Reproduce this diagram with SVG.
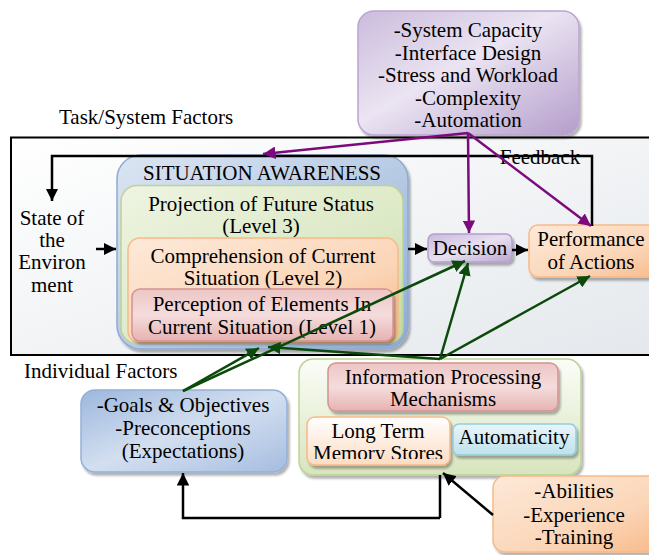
<svg xmlns="http://www.w3.org/2000/svg" width="649" height="555" viewBox="0 0 649 555">
<defs>
<style>
text{font-family:"Liberation Serif","Times New Roman",serif;font-size:21px;fill:#000;text-anchor:middle}
.lbl{text-anchor:start}
.blk{fill:none;stroke:#000;stroke-width:2.5}
.pur{fill:none;stroke:#7d0a7d;stroke-width:2.5}
.grn{fill:none;stroke:#0b4a0b;stroke-width:2.5}
.sh{filter:url(#ds)}
</style>
<filter id="ds" x="-10%" y="-10%" width="130%" height="130%">
<feDropShadow dx="2" dy="3" stdDeviation="1" flood-color="#000" flood-opacity="0.3"/>
</filter>
<linearGradient id="gEnv" x1="0" y1="0" x2="1" y2="1"><stop offset="0" stop-color="#ffffff"/><stop offset="1" stop-color="#e4e8ec"/></linearGradient>
<linearGradient id="gPur" x1="0" y1="0" x2="1" y2="1"><stop offset="0" stop-color="#cbbcdc"/><stop offset="0.45" stop-color="#ebe4f2"/><stop offset="1" stop-color="#b49dcb"/></linearGradient>
<linearGradient id="gDec" x1="0" y1="0" x2="1" y2="1"><stop offset="0" stop-color="#c9b9dc"/><stop offset="0.5" stop-color="#e8e0f0"/><stop offset="1" stop-color="#bba6d1"/></linearGradient>
<linearGradient id="gBlue" x1="0" y1="0" x2="1" y2="1"><stop offset="0" stop-color="#dbe5f2"/><stop offset="0.5" stop-color="#b9cce5"/><stop offset="1" stop-color="#8eaad4"/></linearGradient>
<linearGradient id="gBlue2" x1="0" y1="0" x2="1" y2="1"><stop offset="0" stop-color="#9db7dc"/><stop offset="0.5" stop-color="#d3dff0"/><stop offset="1" stop-color="#a6bde0"/></linearGradient>
<linearGradient id="gGrn" x1="0" y1="0" x2="1" y2="1"><stop offset="0" stop-color="#eef4e2"/><stop offset="0.6" stop-color="#dce9c5"/><stop offset="1" stop-color="#c3d79e"/></linearGradient>
<linearGradient id="gGrn2" x1="0" y1="0" x2="0" y2="1"><stop offset="0" stop-color="#fbfdf8"/><stop offset="1" stop-color="#d7e5bd"/></linearGradient>
<linearGradient id="gOr" x1="0" y1="0" x2="1" y2="1"><stop offset="0" stop-color="#fde9d9"/><stop offset="0.6" stop-color="#fbd6b8"/><stop offset="1" stop-color="#f8b886"/></linearGradient>
<linearGradient id="gOr2" x1="0" y1="0" x2="0" y2="1"><stop offset="0" stop-color="#ffffff"/><stop offset="1" stop-color="#fcdcc2"/></linearGradient>
<linearGradient id="gRed" x1="0" y1="0" x2="0" y2="1"><stop offset="0" stop-color="#ecc6c5"/><stop offset="0.5" stop-color="#f5dcdc"/><stop offset="1" stop-color="#e5b3b2"/></linearGradient>
<linearGradient id="gCy" x1="0" y1="0" x2="0" y2="1"><stop offset="0" stop-color="#e9f5f9"/><stop offset="1" stop-color="#bfe1ec"/></linearGradient>
<marker id="aB" viewBox="0 0 10 10" refX="10" refY="5" markerWidth="5" markerHeight="5" orient="auto" markerUnits="strokeWidth"><path d="M0,0 L10,5 L0,10 Z" fill="#000"/></marker>
<marker id="aP" viewBox="0 0 10 10" refX="10" refY="5" markerWidth="5" markerHeight="5" orient="auto" markerUnits="strokeWidth"><path d="M0,0 L10,5 L0,10 Z" fill="#7d0a7d"/></marker>
<marker id="aG" viewBox="0 0 10 10" refX="10" refY="5" markerWidth="5" markerHeight="5" orient="auto" markerUnits="strokeWidth"><path d="M0,0 L10,5 L0,10 Z" fill="#0b4a0b"/></marker>
<clipPath id="cLTM"><rect x="300" y="410" width="160" height="49"/></clipPath>
</defs>

<g id="environment-frame">
<rect x="11" y="137.5" width="660" height="217.5" fill="url(#gEnv)" stroke="#000" stroke-width="2"/>
</g>

<g id="labels">
<text class="lbl" x="59" y="124">Task/System Factors</text>
<text class="lbl" x="24" y="378">Individual Factors</text>
</g>

<g id="task-system-factors">
<rect class="sh" x="358" y="11" width="221" height="124" rx="16" fill="url(#gPur)" stroke="#b9a5d0" stroke-width="1.5"/>
<text x="468" y="37">-System Capacity</text>
<text x="468" y="60">-Interface Design</text>
<text x="468" y="82">-Stress and Workload</text>
<text x="468" y="105">-Complexity</text>
<text x="468" y="127">-Automation</text>
</g>

<g id="state-of-environment">
<text x="52" y="225">State of</text>
<text x="52" y="247">the</text>
<text x="52" y="269">Environ</text>
<text x="52" y="292">ment</text>
</g>

<g id="situation-awareness">
<rect class="sh" x="117" y="155" width="291" height="194" rx="24" fill="url(#gBlue)" stroke="#8ea9d2" stroke-width="1.5"/>
<text x="262" y="180">SITUATION AWARENESS</text>
</g>

<g id="level3">
<rect x="121" y="185.5" width="282" height="158" rx="16" fill="url(#gGrn)" stroke="#bdd296" stroke-width="1.5"/>
<text x="261" y="211">Projection of Future Status</text>
<text x="261" y="233">(Level 3)</text>
</g>

<g id="level2">
<rect x="128" y="238" width="270" height="105" rx="12" fill="url(#gOr)" stroke="#f7b988" stroke-width="1.5"/>
<text x="263" y="263">Comprehension of Current</text>
<text x="263" y="285">Situation (Level 2)</text>
</g>

<g id="level1">
<rect class="sh" x="132" y="289" width="261" height="52" rx="8" fill="url(#gRed)" stroke="#d49391" stroke-width="1.5"/>
<text x="262" y="311">Perception of Elements In</text>
<text x="262" y="333.5">Current Situation (Level 1)</text>
</g>

<g id="decision">
<rect class="sh" x="428" y="234" width="84" height="28" rx="6" fill="url(#gDec)" stroke="#b3a0cc" stroke-width="1.5"/>
<text x="470" y="255">Decision</text>
</g>

<g id="performance">
<rect class="sh" x="529" y="225" width="140" height="52" rx="9" fill="url(#gOr)" stroke="#f7b988" stroke-width="1.5"/>
<text x="591" y="246">Performance</text>
<text x="591" y="268.5">of Actions</text>
</g>

<g id="goals">
<rect class="sh" x="81" y="390" width="206" height="82" rx="14" fill="url(#gBlue2)" stroke="#94b0d8" stroke-width="1.5"/>
<text x="183" y="412">-Goals &amp; Objectives</text>
<text x="183" y="435">-Preconceptions</text>
<text x="183" y="458">(Expectations)</text>
</g>

<g id="individual-mechanisms">
<rect class="sh" x="299" y="359" width="282" height="116" rx="14" fill="url(#gGrn2)" stroke="#bcd297" stroke-width="1.5"/>
</g>

<g id="information-processing">
<rect class="sh" x="328" y="363" width="230" height="48" rx="8" fill="url(#gRed)" stroke="#d49391" stroke-width="1.5"/>
<text x="443" y="384">Information Processing</text>
<text x="443" y="406">Mechanisms</text>
</g>

<g id="long-term-memory">
<rect class="sh" x="307" y="417" width="143" height="48" rx="8" fill="url(#gOr2)" stroke="#f7b988" stroke-width="1.5"/>
<text x="378" y="438">Long Term</text>
<text x="378" y="460" clip-path="url(#cLTM)">Memory Stores</text>
</g>

<g id="automaticity">
<rect class="sh" x="453" y="424" width="123" height="31" rx="6" fill="url(#gCy)" stroke="#93cddd" stroke-width="1.5"/>
<text x="514" y="444">Automaticity</text>
</g>

<g id="abilities">
<rect class="sh" x="493" y="476" width="176" height="76" rx="12" fill="url(#gOr)" stroke="#f7b988" stroke-width="1.5"/>
<text x="574" y="498">-Abilities</text>
<text x="574" y="522">-Experience</text>
<text x="574" y="544">-Training</text>
</g>

<g id="feedback-label">
<text x="540" y="164">Feedback</text>
</g>

<g id="connectors">
<path class="blk" d="M592,226 V156 H52 V201" marker-end="url(#aB)"/>
<path class="blk" d="M96,249 H116" marker-end="url(#aB)"/>
<path class="blk" d="M408,249 H427" marker-end="url(#aB)"/>
<path class="blk" d="M512,250 H528" marker-end="url(#aB)"/>
<path class="blk" d="M440,518 H183 V473" marker-end="url(#aB)"/>
<path class="blk" d="M440,518 V475"/>
<path class="blk" d="M493,515 L443,473" marker-end="url(#aB)"/>
<path class="pur" d="M468,133 L263,154" marker-end="url(#aP)"/>
<path class="pur" d="M468,133 L469,233" marker-end="url(#aP)"/>
<path class="pur" d="M468,133 L591,226" marker-end="url(#aP)"/>
<path class="grn" d="M183,391 L259,348" marker-end="url(#aG)"/>
<path class="grn" d="M183,391 L465,261" marker-end="url(#aG)"/>
<path class="grn" d="M440,359 L268,347" marker-end="url(#aG)"/>
<path class="grn" d="M440,359 L468,263" marker-end="url(#aG)"/>
<path class="grn" d="M440,359 L590,276" marker-end="url(#aG)"/>
</g>
</svg>
